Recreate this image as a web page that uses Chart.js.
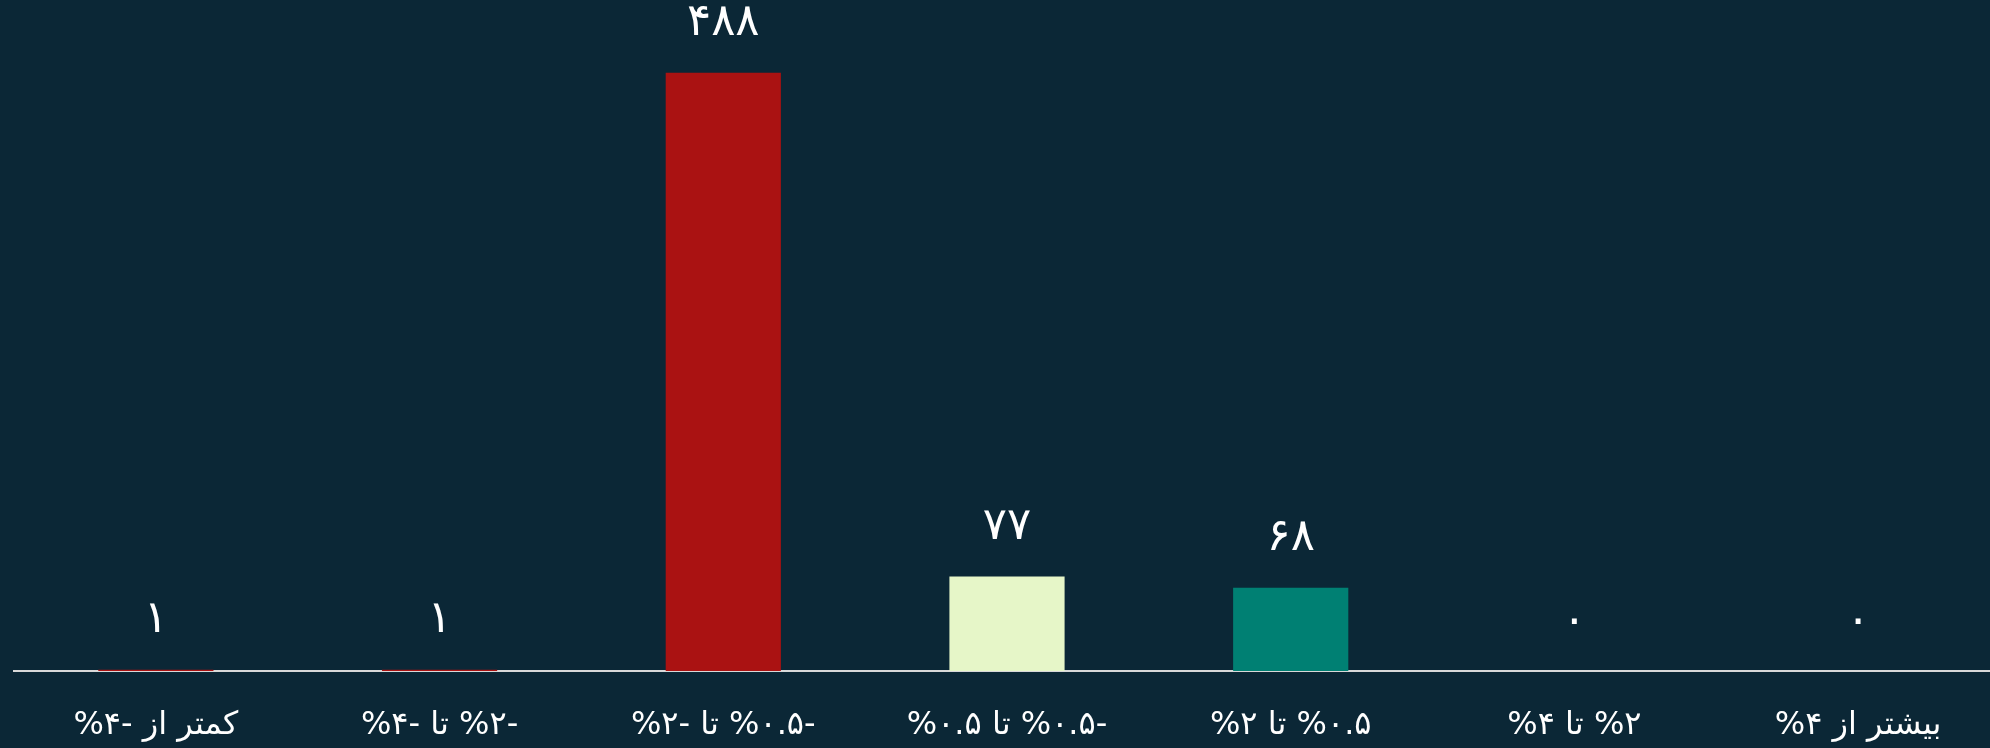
<!DOCTYPE html>
<html>
<head>
<meta charset="utf-8">
<script src="https://cdn.jsdelivr.net/npm/chart.js@4.4.1/dist/chart.umd.min.js"></script>
<style>
  html, body { margin: 0; padding: 0; background: #0b2736; overflow: hidden; }
  #wrap { width: 2000px; height: 748px; position: relative; }
</style>
</head>
<body>
<div id="wrap"><canvas id="myChart" dir="rtl"></canvas></div>
<script>
// بازه‌های تغییر قیمت
var categories = ["کمتر از -۴%", "-۲% تا -۴%", "-۰.۵% تا -۲%", "-۰.۵% تا ۰.۵%", "۰.۵% تا ۲%", "۲% تا ۴%", "بیشتر از ۴%"];
// تعداد نمادها
var counts = [1, 1, 488, 77, 68, 0, 0];
var barColors = ["#aa1212", "#aa1212", "#aa1212", "#e6f6c8", "#008073", "#008073", "#008073"];

var fontName = "'DejaVu Sans', sans-serif";

function toFa(n) {
    var d = "۰۱۲۳۴۵۶۷۸۹";
    return String(n).replace(/[0-9]/g, function (c) { return d[+c]; });
}
// keep % outside the number run, like the original rendering
function fixPercent(s) {
    return s.replace(/%/g, "\u200F%");
}

var valueLabels = {
    id: "valueLabels",
    afterDatasetsDraw(chart) {
        var ctx = chart.ctx;
        var meta = chart.getDatasetMeta(0);
        ctx.save();
        ctx.font = "45px " + fontName;
        ctx.fillStyle = "#ffffff";
        ctx.textAlign = "center";
        ctx.textBaseline = "middle";
        meta.data.forEach(function (bar, i) {
            ctx.fillText(toFa(counts[i]), bar.x, bar.y - 49);
        });
        ctx.restore();
    }
};

new Chart("myChart", {
    type: "bar",
    data: {
        labels: categories.map(fixPercent),
        datasets: [{
            data: counts,
            backgroundColor: barColors,
            categoryPercentage: 1,
            barPercentage: 0.406
        }]
    },
    options: {
        responsive: true,
        maintainAspectRatio: false,
        animation: false,
        layout: { padding: { top: 58, left: 14, right: 0, bottom: 0 } },
        plugins: { legend: { display: false }, tooltip: { enabled: false } },
        scales: {
            x: {
                grid: { display: false, drawTicks: false },
                border: { color: "#d9d9d9", width: 2 },
                ticks: { color: "#ffffff", padding: 35, maxRotation: 0, font: { family: fontName, size: 32 } },
                afterFit: function (scale) { scale.height = 77; }
            },
            y: { display: false, min: 0, max: 500 }
        }
    },
    plugins: [valueLabels]
});
</script>
</body>
</html>
